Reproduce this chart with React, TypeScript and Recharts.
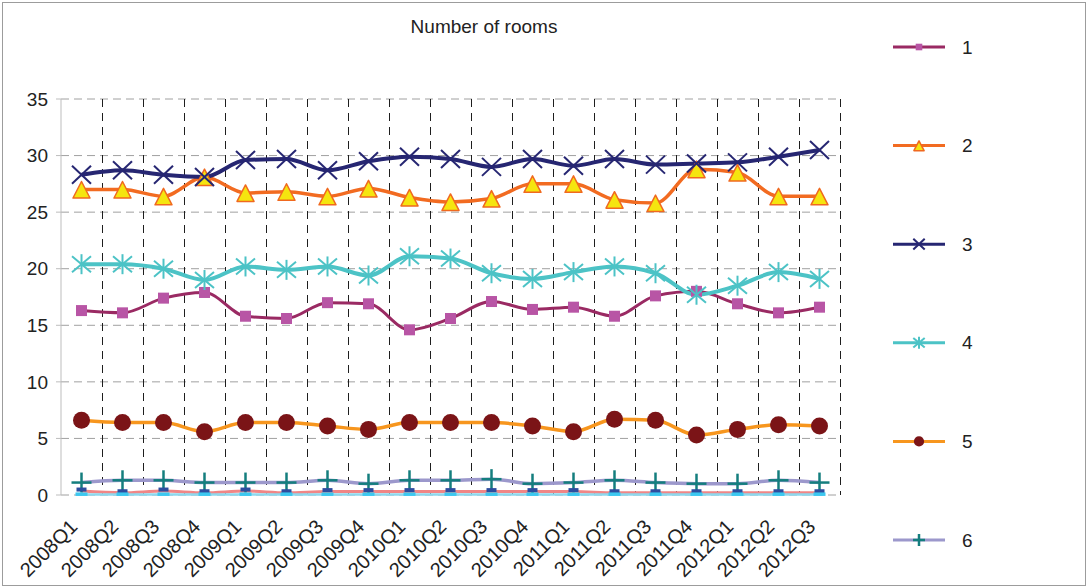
import React from 'react';
import { LineChart, Line, XAxis, YAxis, CartesianGrid, Legend } from 'recharts';

const FONT = '"Liberation Sans", Arial, Helvetica, sans-serif';

// Quarterly categories on the x axis
const quarters = [
  '2008Q1', '2008Q2', '2008Q3', '2008Q4',
  '2009Q1', '2009Q2', '2009Q3', '2009Q4',
  '2010Q1', '2010Q2', '2010Q3', '2010Q4',
  '2011Q1', '2011Q2', '2011Q3', '2011Q4',
  '2012Q1', '2012Q2', '2012Q3',
];

// Share of dwellings by number of rooms, per quarter
const rooms1 = [16.3, 16.1, 17.4, 17.9, 15.8, 15.6, 17.0, 16.9, 14.6, 15.6, 17.1, 16.4, 16.6, 15.8, 17.6, 18.0, 16.9, 16.1, 16.6];
const rooms2 = [27.0, 27.0, 26.4, 28.1, 26.7, 26.8, 26.4, 27.1, 26.3, 25.9, 26.2, 27.5, 27.5, 26.1, 25.8, 28.8, 28.5, 26.4, 26.4];
const rooms3 = [28.3, 28.7, 28.3, 28.1, 29.6, 29.7, 28.7, 29.5, 29.9, 29.7, 29.0, 29.7, 29.1, 29.7, 29.2, 29.3, 29.4, 29.9, 30.5];
const rooms4 = [20.4, 20.4, 20.0, 19.0, 20.2, 19.9, 20.2, 19.4, 21.1, 20.9, 19.6, 19.1, 19.7, 20.2, 19.6, 17.7, 18.5, 19.7, 19.1];
const rooms5 = [6.6, 6.4, 6.4, 5.6, 6.4, 6.4, 6.1, 5.8, 6.4, 6.4, 6.4, 6.1, 5.6, 6.7, 6.6, 5.3, 5.8, 6.2, 6.1];
const rooms6 = [1.1, 1.3, 1.3, 1.1, 1.1, 1.1, 1.3, 1.0, 1.3, 1.3, 1.4, 1.0, 1.1, 1.3, 1.1, 1.0, 1.0, 1.3, 1.1];
const rooms7 = [0.35, 0.2, 0.35, 0.2, 0.35, 0.2, 0.3, 0.3, 0.3, 0.3, 0.3, 0.3, 0.3, 0.2, 0.2, 0.2, 0.2, 0.2, 0.2];
const rooms8 = [0.05, 0.05, 0.05, 0.05, 0.05, 0.05, 0.05, 0.05, 0.05, 0.05, 0.05, 0.05, 0.05, 0.05, 0.05, 0.05, 0.05, 0.05, 0.05];

// Series names shown in the legend
const seriesNames = ['1', '2', '3', '4', '5', '6', '7', '8'];

const yTicks = [0, 5, 10, 15, 20, 25, 30, 35];

const data = quarters.map((quarter, i) => ({
  quarter,
  r1: rooms1[i],
  r2: rooms2[i],
  r3: rooms3[i],
  r4: rooms4[i],
  r5: rooms5[i],
  r6: rooms6[i],
  r7: rooms7[i],
  r8: rooms8[i],
}));

// Category boundaries (0 .. n) for the dashed vertical grid and axis ticks
const boundaryTicks = Array.from({ length: quarters.length + 1 }, (_, i) => i);

type MarkerKind = 'square' | 'triangle' | 'cross' | 'star' | 'circle' | 'plus' | 'dashDark' | 'dashLight';

interface SeriesStyle {
  key: string;
  stroke: string;
  width: number;
  marker: MarkerKind;
  inLegend: boolean;
}

const seriesStyles: SeriesStyle[] = [
  { key: 'r1', stroke: '#9A2A63', width: 3, marker: 'square', inLegend: true },
  { key: 'r2', stroke: '#F26B21', width: 3.5, marker: 'triangle', inLegend: true },
  { key: 'r3', stroke: '#262672', width: 4, marker: 'cross', inLegend: true },
  { key: 'r4', stroke: '#4CC3C6', width: 4, marker: 'star', inLegend: true },
  { key: 'r5', stroke: '#F7961E', width: 3.5, marker: 'circle', inLegend: true },
  { key: 'r6', stroke: '#9C98CC', width: 3.5, marker: 'plus', inLegend: true },
  { key: 'r7', stroke: '#F08686', width: 3, marker: 'dashDark', inLegend: false },
  { key: 'r8', stroke: '#8ED8EE', width: 2.5, marker: 'dashLight', inLegend: false },
];

const styleByKey: Record<string, SeriesStyle> = Object.fromEntries(seriesStyles.map((s) => [s.key, s]));

function Marker({ kind, cx, cy, k = 1 }: { kind: MarkerKind; cx: number; cy: number; k?: number }) {
  if (cx == null || cy == null || Number.isNaN(cx) || Number.isNaN(cy)) return null;
  switch (kind) {
    case 'square':
      return <rect x={cx - 5.5 * k} y={cy - 5.5 * k} width={11 * k} height={11 * k} fill="#B855A5" />;
    case 'triangle':
      return (
        <polygon
          points={`${cx},${cy - 8 * k} ${cx - 8.5 * k},${cy + 8.5 * k} ${cx + 8.5 * k},${cy + 8.5 * k}`}
          fill="#F5E50F"
          stroke="#F0691F"
          strokeWidth={1.5}
          strokeLinejoin="round"
        />
      );
    case 'cross':
      return (
        <g stroke="#262672" strokeWidth={2}>
          <line x1={cx - 9.5 * k} y1={cy - 9 * k} x2={cx + 9.5 * k} y2={cy + 9 * k} />
          <line x1={cx - 9.5 * k} y1={cy + 9 * k} x2={cx + 9.5 * k} y2={cy - 9 * k} />
        </g>
      );
    case 'star':
      return (
        <g stroke="#4CC3C6" strokeWidth={2}>
          <line x1={cx - 9.5 * k} y1={cy - 8 * k} x2={cx + 9.5 * k} y2={cy + 8 * k} />
          <line x1={cx - 9.5 * k} y1={cy + 8 * k} x2={cx + 9.5 * k} y2={cy - 8 * k} />
          <line x1={cx} y1={cy - 10 * k} x2={cx} y2={cy + 10 * k} />
        </g>
      );
    case 'circle':
      return <circle cx={cx} cy={cy} r={8.5 * k} fill="#7B1417" />;
    case 'plus':
      return (
        <g stroke="#147E7E" strokeWidth={2.5}>
          <line x1={cx - 10 * k} y1={cy} x2={cx + 10 * k} y2={cy} />
          <line x1={cx} y1={cy - 10 * k} x2={cx} y2={cy + 10 * k} />
        </g>
      );
    case 'dashDark':
      return <rect x={cx - 5 * k} y={cy - 3.5 * k} width={10 * k} height={4 * k} fill="#2D4D9F" />;
    case 'dashLight':
      return <rect x={cx - 6 * k} y={cy - 2 * k} width={12 * k} height={3.5 * k} fill="#3CC8F0" />;
    default:
      return null;
  }
}

const QuarterTick = (props: any) => {
  const { x, y, payload } = props;
  const ax = x - 3;
  const ay = y + 33;
  return (
    <text
      x={ax}
      y={ay}
      transform={`rotate(-45 ${ax} ${ay})`}
      textAnchor="end"
      fontSize={20}
      fill="#222"
      fontFamily={FONT}
    >
      {payload.value}
    </text>
  );
};

// Boundary axis carries tick marks only
const EmptyTick = () => <g />;

// Vertical grid lines on the inner and right category boundaries, through the boundary axis scale
const boundaryGridLines = ({ xAxis, offset }: any) => {
  const left = offset?.left ?? 0;
  const width = offset?.width ?? 0;
  const toX = (t: number) =>
    xAxis && typeof xAxis.scale === 'function' ? xAxis.scale(t) : left + (t / quarters.length) * width;
  return boundaryTicks
    .map(toX)
    .filter((px: number) => px > left + 0.5 && px <= left + width + 0.5)
    .map((px: number) => Math.round(px) + 0.5);
};

const renderLegend = (props: any) => {
  const items = (props.payload || []).filter((p: any) => p.type !== 'none' && styleByKey[p.dataKey]?.inLegend);
  return (
    <svg width={200} height={587} style={{ display: 'block' }}>
      {items.map((item: any, i: number) => {
        const s = styleByKey[item.dataKey];
        const y = 47 + i * 98.6;
        return (
          <g key={item.dataKey}>
            <line x1={13} x2={65} y1={y} y2={y} stroke={s.stroke} strokeWidth={3} />
            <Marker kind={s.marker} cx={39} cy={y} k={0.6} />
            <text x={82} y={y} dy="0.35em" fontSize={19} fill="#222" fontFamily={FONT}>
              {item.value}
            </text>
          </g>
        );
      })}
    </svg>
  );
};

export default function App() {
  return (
    <div style={{ position: 'absolute', left: 0, top: 0, width: 1087, height: 587, background: '#fff' }}>
      <div
        style={{
          position: 'absolute',
          left: 2,
          top: 2,
          width: 1084,
          height: 584,
          boxSizing: 'border-box',
          border: '1px solid #9C9C9C',
        }}
      />
      <div
        style={{
          position: 'absolute',
          left: 384,
          top: 17,
          width: 200,
          textAlign: 'center',
          fontFamily: FONT,
          fontSize: 19,
          lineHeight: '19px',
          color: '#222',
          whiteSpace: 'nowrap',
        }}
      >
        Number of rooms
      </div>
      <div style={{ position: 'absolute', left: 0, top: 0 }}>
        <LineChart width={1087} height={587} data={data} margin={{ top: 99, right: 247, bottom: 0, left: 0 }}>
          <CartesianGrid vertical={false} stroke="#A0A0A0" strokeDasharray="8 5" />
          <CartesianGrid
            horizontal={false}
            xAxisId="bounds"
            stroke="#1E1E1E"
            strokeDasharray="8 6"
            verticalCoordinatesGenerator={boundaryGridLines}
          />
          <XAxis
            xAxisId="bounds"
            type="number"
            domain={[0, quarters.length]}
            ticks={boundaryTicks}
            allowDataOverflow
            interval={0}
            height={0}
            tick={<EmptyTick />}
            tickSize={5}
            tickLine={{ stroke: '#BDBDBD' }}
            axisLine={{ stroke: '#BDBDBD' }}
          />
          <XAxis
            xAxisId="q"
            dataKey="quarter"
            padding={{ left: 20.5, right: 20.5 }}
            height={92}
            axisLine={false}
            tickLine={false}
            tickSize={0}
            tickMargin={0}
            interval={0}
            tick={<QuarterTick />}
          />
          <YAxis
            domain={[0, 35]}
            ticks={yTicks}
            width={61}
            tickSize={5}
            tickMargin={8}
            axisLine={{ stroke: '#BDBDBD' }}
            tickLine={{ stroke: '#BDBDBD' }}
            tick={{ fontSize: 19, fill: '#222', fontFamily: FONT }}
          />
          <Legend
            layout="vertical"
            align="center"
            verticalAlign="middle"
            content={renderLegend}
            wrapperStyle={{ left: 880, top: 0, width: 200, height: 587 }}
          />
          {seriesStyles.map((s, idx) => (
            <Line
              key={s.key}
              xAxisId="q"
              dataKey={s.key}
              name={seriesNames[idx]}
              type="monotone"
              stroke={s.stroke}
              strokeWidth={s.width}
              legendType={s.inLegend ? 'line' : 'none'}
              isAnimationActive={false}
              dot={(p: any) => <Marker key={`${s.key}-${p.index}`} kind={s.marker} cx={p.cx} cy={p.cy} />}
              activeDot={false}
            />
          ))}
        </LineChart>
      </div>
    </div>
  );
}
